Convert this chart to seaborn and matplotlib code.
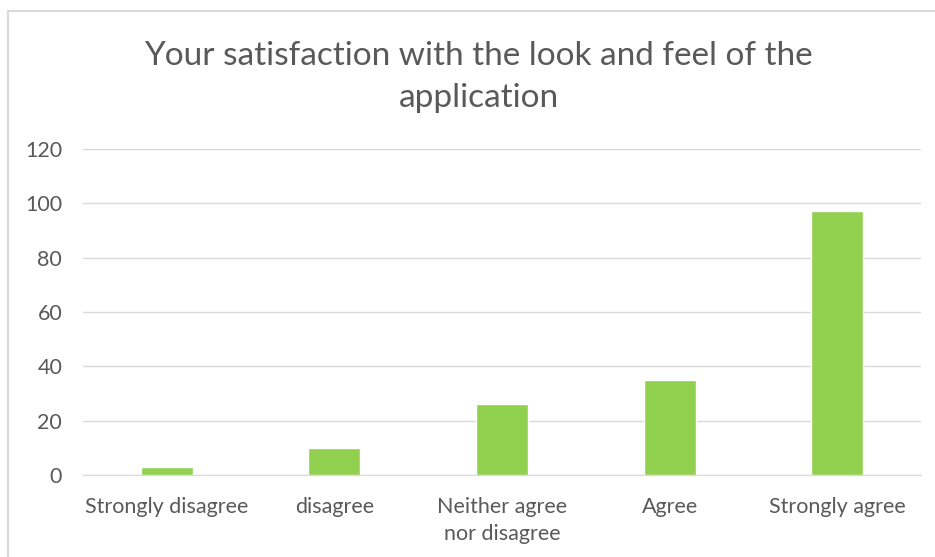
import matplotlib
matplotlib.use('Agg')
import matplotlib.pyplot as plt
import seaborn as sns
import pandas as pd

# survey answers and counts
answers = ['Strongly disagree', 'disagree', 'Neither agree\nnor disagree', 'Agree', 'Strongly agree']
counts = [3, 10, 26, 35, 97]
y_ticks = [0, 20, 40, 60, 80, 100, 120]

df = pd.DataFrame({'answer': answers, 'count': counts})

sns.set_style('white')
plt.rcParams['font.family'] = ['Lato', 'DejaVu Sans']

fig = plt.figure(figsize=(9.35, 5.57), dpi=100)
ax = fig.add_axes([83/935, 1-475/557, (921-83)/935, (475-149)/557])

sns.barplot(data=df, x='answer', y='count', color='#92d050', width=0.31,
            saturation=1, ax=ax)

ax.set_ylim(0, 120)
ax.set_yticks(y_ticks)
ax.yaxis.grid(True, color='#d9d9d9', linewidth=1)
ax.set_axisbelow(True)
for s in ['top', 'right', 'left']:
    ax.spines[s].set_visible(False)
ax.spines['bottom'].set_color('#d9d9d9')
ax.tick_params(axis='both', length=0, colors='#595959', labelsize=15.5)
ax.tick_params(axis='x', pad=16)
ax.tick_params(axis='y', pad=15)
for lbl in ax.get_xticklabels():
    lbl.set_linespacing(1.45)
ax.set_xlabel('')
ax.set_ylabel('')

fig.text(0.512, 1-77/557, 'Your satisfaction with the look and feel of the\napplication',
         ha='center', va='center', fontsize=24, color='#595959', linespacing=1.5)

# chart border like the excel frame
fig.add_artist(plt.Line2D([8/935, 8/935], [0, 1-11/557], transform=fig.transFigure,
                          color='#d9d9d9', linewidth=1.5))
fig.add_artist(plt.Line2D([8/935, 1], [1-11/557, 1-11/557], transform=fig.transFigure,
                          color='#d9d9d9', linewidth=1.5))

fig.savefig('out.png', dpi=100)
